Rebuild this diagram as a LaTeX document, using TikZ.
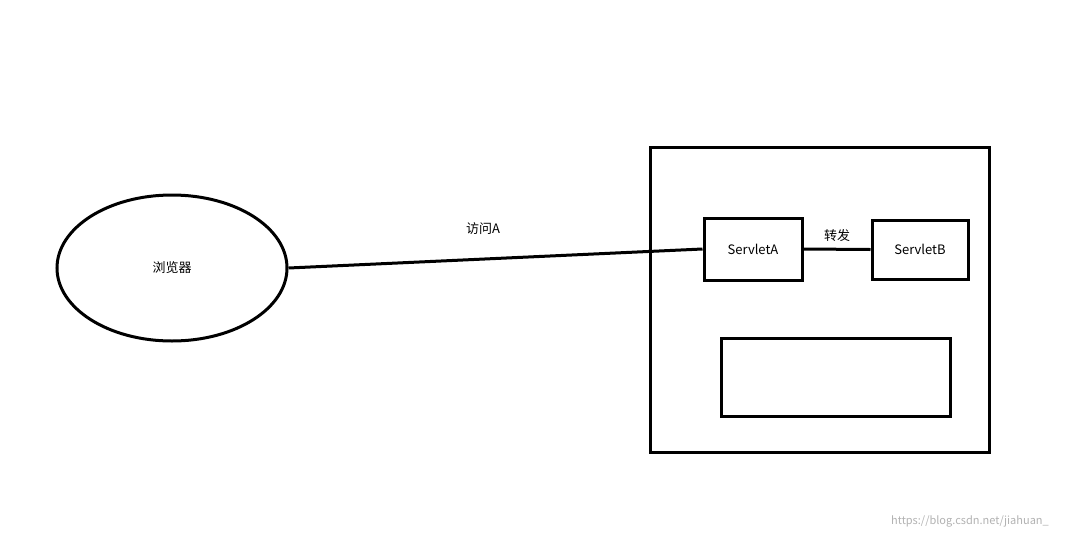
\documentclass[tikz,border=0pt]{standalone}
\usepackage{fontspec}
\setmainfont{Noto Sans CJK SC}
\usetikzlibrary{shapes.geometric}
\begin{document}
\begin{tikzpicture}[x=1pt,y=-1pt,
  box/.style={draw,line width=3pt,inner sep=0pt},
  lbl/.style={font=\fontsize{13}{15}\selectfont}]
\useasboundingbox[fill=white] (0,0) rectangle (1080,539);
\node[box,ellipse,minimum width=230pt,minimum height=146pt] (br) at (172,268) {};
\node[lbl] at (172,268) {浏览器};
\node[box,minimum width=339pt,minimum height=305pt] (outer) at (819.5,299.5) {};
\node[box,minimum width=98pt,minimum height=62pt,lbl] (sa) at (753,249) {ServletA};
\node[box,minimum width=96pt,minimum height=59pt,lbl] (sb) at (920,249.5) {ServletB};
\node[box,minimum width=229pt,minimum height=78pt] (bottom) at (835.5,377) {};
\draw[line width=3pt] (br.east) -- node[lbl,above=20pt,pos=0.47]{访问A} (sa.west);
\draw[line width=3pt] (sa.east) -- node[lbl,above=3pt]{转发} (sb.west);
\node[font=\fontsize{11}{13}\selectfont,text=black!30] (wm) at (970,521) {https://blog.csdn.net/jiahuan\_};
\end{tikzpicture}
\end{document}
